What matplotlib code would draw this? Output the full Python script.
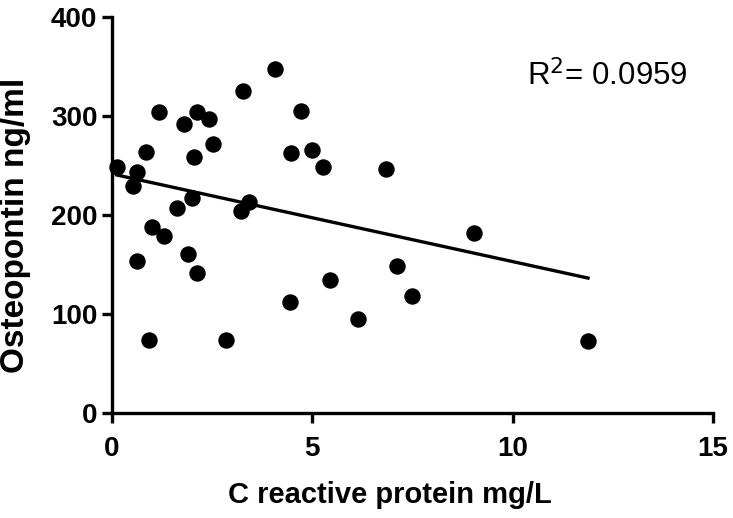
import numpy as np
import matplotlib.pyplot as plt

plt.rcParams['font.family'] = ['Liberation Sans', 'DejaVu Sans']

# C reactive protein (mg/L) vs osteopontin (ng/ml)
crp = [0.12, 0.63, 0.53, 0.85, 1.17, 1.80, 2.12, 2.42, 2.53, 2.05,
       3.26, 4.07, 4.48, 4.72, 2.00, 1.63, 3.23, 3.43, 0.99, 1.30,
       0.62, 1.89, 2.12, 0.93, 2.85, 4.45, 4.99, 5.27, 6.83, 9.03,
       5.43, 6.14, 7.11, 7.49, 11.88]
opn = [248, 243, 229, 264, 304, 292, 304, 297, 272, 259,
       325, 347, 263, 305, 217, 207, 204, 213, 188, 179,
       154, 161, 141, 74, 74, 112, 266, 248, 246, 182,
       134, 95, 148, 118, 73]

x = np.array(crp)
y = np.array(opn)
# линейная регрессия
slope, icpt = np.polyfit(x, y, 1)

fig = plt.figure(figsize=(7.33, 5.18), dpi=100)
ax = fig.add_axes([0.1528, 0.2027, 0.8199, 0.7645])

ax.scatter(x, y, s=140, color='black', zorder=3, clip_on=False, linewidths=0)
lx = np.array([x.min(), x.max()])
ax.plot(lx, slope * lx + icpt, color='black', lw=2.4)

ax.set_xlim(0, 15)
ax.set_ylim(0, 400)
ax.set_xticks([0, 5, 10, 15])
ax.set_yticks([0, 100, 200, 300, 400])
for s in ['top', 'right']:
    ax.spines[s].set_visible(False)
for s in ['left', 'bottom']:
    ax.spines[s].set_linewidth(2.4)
ax.tick_params(width=2.4, length=7.5, labelsize=20)
ax.tick_params(axis='y', pad=3)
ax.tick_params(axis='x', pad=9)
for lab in ax.get_xticklabels() + ax.get_yticklabels():
    lab.set_fontweight('bold')

ax.set_xlabel('C reactive protein mg/L', fontsize=21, fontweight='bold')
ax.xaxis.set_label_coords(0.462, -0.172)
ax.set_ylabel('Osteopontin ng/ml', fontsize=24, fontweight='bold', va='center')
ax.yaxis.set_label_coords(-0.16, 0.475)
ax.text(0.69, 0.826, 'R$^{2}$= 0.0959', transform=ax.transAxes, fontsize=22.5,
        va='baseline')

fig.savefig('out.png', dpi=100)
